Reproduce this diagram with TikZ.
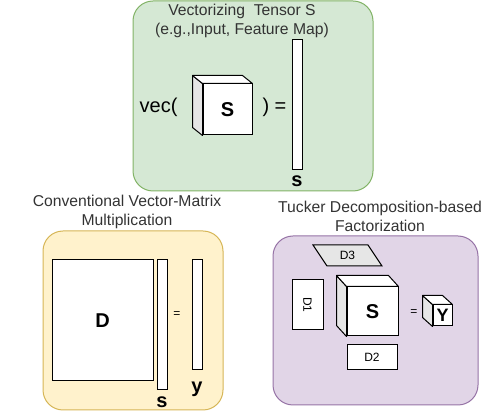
\documentclass[tikz,border=0pt]{standalone}
\usepackage{fontspec}
\setmainfont{Liberation Sans}
\usetikzlibrary{calc}

\definecolor{vecfill}{HTML}{D5E8D4}
\definecolor{vecline}{HTML}{82B366}
\definecolor{convfill}{HTML}{FFF2CC}
\definecolor{convline}{HTML}{D6B656}
\definecolor{tuckfill}{HTML}{E1D5E7}
\definecolor{tuckline}{HTML}{9673A6}
\definecolor{titlegray}{HTML}{333333}
\definecolor{sidegray}{HTML}{E6E6E6}

\tikzset{
  panel/.style={draw, line width=1pt, rounded corners=20pt, inner sep=0pt},
  title/.style={text=titlegray, align=center, font=\fontsize{15.7}{19}\selectfont},
  box/.style={draw, fill=white, line width=1pt, inner sep=0pt},
  bigsym/.style={font=\fontsize{20}{20}\selectfont\bfseries},
  smallsym/.style={font=\fontsize{12}{12}\selectfont},
  cubeside/.style={draw, line width=1pt, line join=round}
}

% side and top faces of a cube drawn behind its front face
\newcommand{\cubefaces}[3]{%
  \draw[cubeside, fill=sidegray] (#1.north west) -- ++(-#2,-#3)
    -- ($(#1.south west)+(-#2,-#3)$) -- (#1.south west) -- cycle;
  \draw[cubeside, fill=white] (#1.north west) -- ++(-#2,-#3)
    -- ($(#1.north east)+(-#2,-#3)$) -- (#1.north east) -- cycle;
}

\begin{document}
\begin{tikzpicture}[x=1pt,y=-1pt]
    \useasboundingbox (0,0) rectangle (504,411);

    % Vectorizing panel
    \node[panel, fill=vecfill, draw=vecline, minimum width=240pt, minimum height=190pt] (vecpanel) at (253,96) {};
    \node[title] (vectitle) at (242,21) {Vectorizing\ \ Tensor S\\(e.g.,Input, Feature Map)};

    \node[box, minimum width=49pt, minimum height=51pt, bigsym] (vecS) at (227.5,109.5) {S};
    \cubefaces{vecS}{10}{8}
    \node[anchor=east, font=\fontsize{20}{20}\selectfont] (vecopen) at (181,107) {vec(};
    \node[anchor=west, font=\fontsize{20}{20}\selectfont] (vecclose) at (259,107) {) =};
    \node[box, minimum width=10pt, minimum height=130pt] (vecbar) at (297,105) {};
    \node[bigsym] (vecs) at (297,181) {s};

    % Conventional panel
    \node[panel, fill=convfill, draw=convline, minimum width=180pt, minimum height=179pt] (convpanel) at (133,320.5) {};
    \node[title] (convtitle) at (127,212) {Conventional Vector-Matrix\\Multiplication};

    \node[box, minimum width=101pt, minimum height=121pt, bigsym] (convD) at (102.5,320.5) {D};
    \node[box, minimum width=10pt, minimum height=130pt] (convsbar) at (162,325) {};
    \node[bigsym] (convs) at (162,402) {s};
    \node[smallsym] (conveq) at (177,315) {=};
    \node[box, minimum width=10pt, minimum height=110pt] (convybar) at (197,315) {};
    \node[bigsym] (convy) at (197,389) {y};

    % Tucker panel
    \node[panel, fill=tuckfill, draw=tuckline, minimum width=205pt, minimum height=169pt] (tuckpanel) at (375.5,320.5) {};
    \node[title] (tucktitle) at (380,216) {Tucker Decomposition-based\\Factorization};

    \draw[box, fill=sidegray] (313,245) -- (368,245) -- (382,266) -- (327,266) -- cycle;
    \node[smallsym] (tuckD3) at (347.5,255.5) {D3};
    \node[box, minimum width=50pt, minimum height=31pt, smallsym, rotate=-90] (tuckD1) at (307.5,305) {D1};
    \node[box, minimum width=51pt, minimum height=49pt, bigsym] (tuckS) at (372.5,311.5) {S};
    \cubefaces{tuckS}{10}{11}
    \node[box, minimum width=50pt, minimum height=25pt, smallsym] (tuckD2) at (372,357.5) {D2};
    \node[smallsym] (tuckeq) at (414,313) {=};
    \node[box, minimum width=19pt, minimum height=21pt, font=\fontsize{18}{18}\selectfont\bfseries] (tuckY) at (442.5,315.5) {Y};
    \cubefaces{tuckY}{10}{9}

\end{tikzpicture}
\end{document}
